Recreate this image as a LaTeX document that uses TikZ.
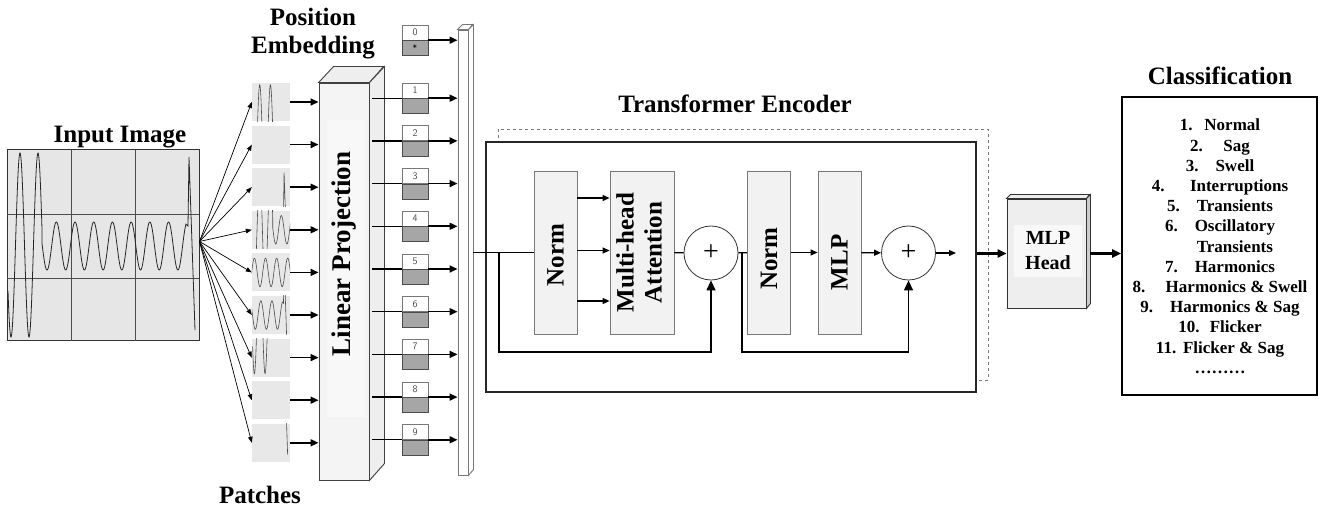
\documentclass[tikz,border=0pt]{standalone}
\usepackage{fontspec}
\setmainfont{Liberation Serif}
\usepackage{graphicx}
\usepackage{xcolor}
\definecolor{imggray}{RGB}{230,230,230}
\definecolor{patchgray}{RGB}{232,232,232}
\definecolor{embgray}{RGB}{166,166,166}
\definecolor{blockgray}{RGB}{242,242,242}
\definecolor{edgegray}{RGB}{120,120,120}
\definecolor{projface}{RGB}{244,244,244}
\definecolor{projside}{RGB}{238,238,238}
\usetikzlibrary{positioning,arrows.meta}

\newcommand{\lbltxt}{\fontsize{25}{28}\selectfont\bfseries}
\newcommand{\headtxt}{\fontsize{20}{25}\selectfont\bfseries}
\newcommand{\listtxt}{\fontsize{17}{20}\selectfont\bfseries}
% the signal of the input image, in image coordinates
\newcommand{\sigwave}{plot[domain=8:42,samples=80] (\x,{245+92*cos((\x-11)/18*360)})
  -- plot[domain=42:186,samples=300] (\x,{246+24*cos((\x-47)/18.7*360)})
  -- (188,226) -- (189,157) -- (195,330)}

\begin{document}
\begin{tikzpicture}[x=1pt,y=-1pt,
  fanarrow/.style={line width=0.7pt,-{Triangle[length=6pt,width=4.5pt]}},
  arr/.style={line width=1.6pt,-{Triangle[length=8pt,width=7pt]}},
  thinarr/.style={line width=1.2pt,-{Triangle[length=7pt,width=6pt]}},
  resarr/.style={line width=1.2pt,-{Triangle[length=10pt,width=9pt]}},
  headarr/.style={line width=2.2pt,-{Triangle[length=9pt,width=8pt]}},
  patch/.style={fill=patchgray,minimum width=38pt,minimum height=38pt,inner sep=0pt},
  tokup/.style={draw=edgegray,fill=white,minimum width=26pt,minimum height=15pt,inner sep=0pt,
    font=\sffamily\fontsize{10}{10}\selectfont,text=black!70},
  tokdn/.style={draw=black!70,fill=embgray,minimum width=26pt,minimum height=15pt,inner sep=0pt,
    font=\sffamily\fontsize{9}{9}\selectfont},
  block/.style={draw=edgegray,fill=blockgray,line width=0.8pt,minimum height=163pt,inner sep=0pt,font=\lbltxt},
  plus/.style={circle,draw=black!80,fill=white,line width=0.8pt,minimum size=54pt,inner sep=0pt,
    font=\fontsize{28}{28}\selectfont}]
  \useasboundingbox (0,0) rectangle (1323,510);

  % input image
  \node[font=\lbltxt,anchor=base] (imglbl) at (120,143) {Input Image};
  \node[draw=black!80,fill=imggray,line width=1pt,minimum width=192pt,minimum height=191pt,inner sep=0pt] (img) at (103,245.5) {};
  \foreach \gx in {71,135} \draw[black!70,line width=0.9pt] (\gx,150) -- (\gx,341);
  \foreach \gy in {214,278} \draw[black!70,line width=0.9pt] (7,\gy) -- (199,\gy);
  \draw[black!85,line width=0.8pt] \sigwave;

  % patches
  \coordinate (fan) at ([yshift=4pt]img.east);
  \foreach \i/\row/\col in {1/0/0,2/0/1,3/0/2,4/1/0,5/1/1,6/1/2,7/2/0,8/2/1,9/2/2}{
    \node[patch] (p\i) at (271,{102+42.6*(\i-1)}) {};
    \begin{scope}
      \clip (p\i.north west) rectangle (p\i.south east);
      \draw[black!70,line width=0.6pt,shift={(252,{83+42.6*(\i-1)})},scale=0.594,
        shift={({-7-64*\col},{-150-64*\row})}] \sigwave;
    \end{scope}
    \draw[fanarrow] (fan) -- (p\i.west);
  }
  \node[font=\lbltxt,anchor=base] (patchlbl) at (260,503) {Patches};

  % linear projection
  \node[draw=black!75,fill=projface,line width=0.9pt,minimum width=50pt,minimum height=397pt,inner sep=0pt] (proj) at (344,281.5) {};
  \draw[black!75,fill=projside,line width=0.9pt] (proj.north west) -- ++(15,-16) -- ++(50,0) -- (proj.north east) -- cycle;
  \draw[black!75,fill=projside,line width=0.9pt] (proj.north east) -- ++(15,-16) -- ++(0,397) -- (proj.south east) -- cycle;
  \fill[white!35!projface] (327,120) rectangle (365,417);
  \node[rotate=90,font=\fontsize{27}{30}\selectfont\bfseries] (projlbl) at (344,254) {Linear Projection};
  \foreach \i in {1,...,9} \draw[arr] (p\i.east) -- (p\i.east -| proj.west);

  % position embedding
  \node[font=\lbltxt,align=center,anchor=north,inner sep=0pt] (poslbl) at (313,7.5) {Position\\Embedding};
  \node[draw=edgegray,fill=white,line width=0.9pt,minimum width=10pt,minimum height=445pt,inner sep=0pt] (bar) at (463,252.5) {};
  \draw[edgegray,fill=white,line width=0.9pt] (bar.north west) -- ++(5,-5) -- ++(10,0) -- (bar.north east) -- cycle;
  \draw[edgegray,fill=white,line width=0.9pt] (bar.north east) -- ++(5,-5) -- ++(0,445) -- (bar.south east) -- cycle;
  \foreach \i in {0,...,9}{
    \pgfmathsetmacro{\sy}{\i==0 ? 40 : 98+42.7*(\i-1)}
    \node[tokup] (t\i) at (415,{\sy-7.5}) {\i};
    \node[tokdn,below=0pt of t\i] (e\i) {\ifnum\i=0 *\fi};
    \ifnum\i>0
      \draw[line width=1.3pt] ([xshift=3pt]proj.east |- t\i.south west) -- (t\i.south west);
    \fi
    \draw[arr] (t\i.south east) -- (t\i.south east -| bar.west);
  }

  % transformer encoder
  \draw[edgegray,dashed,line width=0.8pt] (498,129) rectangle (988,380);
  \node[draw=black!85,fill=white,line width=1.2pt,minimum width=490pt,minimum height=250pt,inner sep=0pt] (enc) at (731,267) {};
  \node[font=\lbltxt,anchor=base] (enclbl) at (735,113) {Transformer Encoder};
  \node[block,minimum width=43pt] (norm1) at (555.5,252.5) {\rotatebox{90}{Norm\hspace{5pt}}};
  \node[block,minimum width=64pt] (mha) at (642,252.5)
    {\rotatebox{90}{\begin{tabular}{@{}c@{}}Multi-head\\Attention\end{tabular}}};
  \node[plus] (add1) at (711,253) {+};
  \node[block,minimum width=43pt] (norm2) at (769,252.5) {\rotatebox{90}{Norm\hspace{12pt}}};
  \node[block,minimum width=43pt] (mlp) at (839.5,252.5) {\rotatebox{90}{MLP\hspace{20pt}}};
  \node[plus] (add2) at (908.5,253) {+};

  \draw[line width=1.2pt] ([xshift=5pt]bar.east |- norm1.west) -- (norm1.west);
  \foreach \dy in {54.5,2,-48.5}
    \draw[thinarr] ([yshift=\dy pt]norm1.east) -- ([yshift=\dy pt]mha.west);
  \draw[line width=1.2pt] (mha) -- (add1);
  \draw[line width=1.2pt] (add1) -- (norm2);
  \draw[thinarr] (norm2) -- (mlp);
  \draw[thinarr] (mlp) -- (add2);
  \coordinate (encout) at (956,253);
  \draw[thinarr] (add2) -- (encout);
  \coordinate (br1) at (499,252.5);
  \coordinate (res1) at (499,352);
  \draw[resarr] (br1) -- (res1) -| (add1.south);
  \coordinate (br2) at (742,253);
  \coordinate (res2) at (742,352);
  \draw[resarr] (br2) -- (res2) -| (add2.south);

  % MLP head
  \node[draw=black!80,fill=projside,line width=0.9pt,minimum width=79pt,minimum height=109pt,inner sep=0pt] (head) at (1046.5,253.5) {};
  \draw[black!80,fill=projside,line width=0.9pt] (head.north west) -- ++(4,-4) -- ++(79,0) -- (head.north east) -- cycle;
  \draw[black!80,fill=black!20,line width=0.9pt] (head.north east) -- ++(4,-4) -- ++(0,109) -- (head.south east) -- cycle;
  \fill[white!60!projside] (1014,225) rectangle (1082,277);
  \node[font=\headtxt,align=center] (headlbl) at (1048,251) {MLP\\Head};
  \draw[headarr] (enc.east |- head.west) -- (head.west);

  % classification
  \node[draw,line width=1.8pt,minimum width=195pt,minimum height=298pt,inner sep=0pt] (cls) at (1219.5,246) {};
  \node[font=\lbltxt,anchor=base] (clslbl) at (1220,85) {Classification};
  \draw[headarr] ([xshift=4pt]head.east) -- (head.east -| cls.west);
  \foreach \t [count=\k] in {{1.\hspace{0.7em}Normal},{2.\hspace{1.2em}Sag},{3.\hspace{1em}Swell},
      {4.\hspace{1.5em}Interruptions},{5.\hspace{1em}Transients},{6.\hspace{1em}Oscillatory},
      {\phantom{6.\hspace{1em}}Transients},{7.\hspace{1em}Harmonics},{8.\hspace{1.2em}Harmonics \& Swell},
      {9.\hspace{1em}Harmonics \& Sag},{10.\hspace{0.6em}Flicker},{11.\hspace{0.4em}Flicker \& Sag},{………}}
    \node[font=\listtxt,anchor=base] (item\k) at (1220,{131+20.2*(\k-1)}) {\t};
\end{tikzpicture}
\end{document}
